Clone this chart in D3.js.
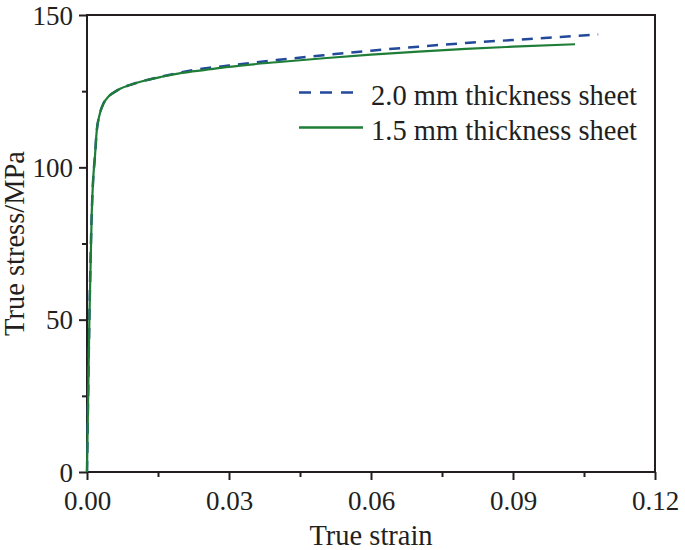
<!DOCTYPE html>
<html><head><meta charset="utf-8">
<script src="https://cdn.jsdelivr.net/npm/d3@7"></script>
<style>body{margin:0;background:#fff}svg{display:block}text{font-family:"Liberation Serif","Times New Roman",serif;fill:#231f20}</style>
</head><body><svg id="c" width="685" height="550"></svg>
<script>
const strain20 = [0,0.0005,0.001,0.0013,0.0017,0.002,0.0027,0.0035,0.0045,0.0055,0.007,0.009,0.0125,0.016,0.02,0.025,0.03,0.04,0.05,0.06,0.07,0.08,0.09,0.1,0.108];
const stress20 = [0,50,85,96,104,111,117.5,121,123.2,124.4,125.8,127,128.6,129.9,131.2,132.5,133.4,135.2,136.8,138.3,139.6,140.8,141.8,142.8,143.6];
const strain15 = [0,0.0005,0.001,0.0013,0.0017,0.002,0.0027,0.0035,0.0045,0.0055,0.007,0.009,0.0125,0.016,0.02,0.025,0.03,0.04,0.05,0.06,0.07,0.08,0.09,0.1031];
const stress15 = [0,50,85,96,104,111,117.5,121,123.2,124.4,125.8,127,128.6,129.8,131,132,133,134.5,135.8,137,138,138.9,139.6,140.4];
const xTicks = [0,0.03,0.06,0.09,0.12];
const xMinor = [0.015,0.045,0.075,0.105];
const yTicks = [0,50,100,150];
const yMinor = [25,75,125];
const legendLabels = ["2.0 mm thickness sheet","1.5 mm thickness sheet"];
const colors = ["#23499a","#1e7d36"];

const svg = d3.select("#c");
const m = {l:87,r:655,t:15,b:472};
const x = d3.scaleLinear().domain([0,0.12]).range([m.l,m.r]);
const y = d3.scaleLinear().domain([0,150]).range([m.b,m.t]);
const ink = "#231f20";

svg.append("rect").attr("x",m.l).attr("y",m.t).attr("width",m.r-m.l).attr("height",m.b-m.t)
  .attr("fill","none").attr("stroke",ink).attr("stroke-width",2);

const fs = 27, ft = 28.5;
const xa = svg.append("g").attr("transform",`translate(0,${m.b})`)
  .call(d3.axisBottom(x).tickValues(xTicks).tickFormat(d3.format(".2f")).tickSize(8).tickPadding(11));
const xm = svg.append("g").attr("transform",`translate(0,${m.b})`)
  .call(d3.axisBottom(x).tickValues(xMinor).tickFormat("").tickSize(5));
const ya = svg.append("g").attr("transform",`translate(${m.l},0)`)
  .call(d3.axisLeft(y).tickValues(yTicks).tickFormat(d3.format("d")).tickSize(8).tickPadding(6));
const ym = svg.append("g").attr("transform",`translate(${m.l},0)`)
  .call(d3.axisLeft(y).tickValues(yMinor).tickFormat("").tickSize(5));
[xa,xm,ya,ym].forEach(g=>{
  g.attr("font-size",fs).attr("font-family",'"Liberation Serif",serif');
  g.select(".domain").remove();
  g.selectAll("line").attr("stroke",ink).attr("stroke-width",2);
  g.selectAll("text").attr("fill",ink);
});
ya.selectAll("text").attr("dy","0.34em");

svg.append("text").attr("x",(m.l+m.r)/2).attr("y",545).attr("text-anchor","middle").attr("font-size",ft).text("True strain");
svg.append("text").attr("transform",`translate(24,${(m.t+m.b)/2}) rotate(-90)`).attr("text-anchor","middle").attr("font-size",ft).text("True stress/MPa");

const line = d3.line().x(d=>x(d[0])).y(d=>y(d[1])).curve(d3.curveMonotoneX);
const d20 = strain20.map((s,i)=>[s,stress20[i]]);
const d15 = strain15.map((s,i)=>[s,stress15[i]]);
svg.append("path").datum(d20).attr("d",line).attr("fill","none").attr("stroke",colors[0]).attr("stroke-width",2.5).attr("stroke-dasharray","11,8");
svg.append("path").datum(d15).attr("d",line).attr("fill","none").attr("stroke",colors[1]).attr("stroke-width",2.2);

const lg = svg.append("g");
[0,1].forEach(i=>{
  const ly = 92.5 + i*35;
  lg.append("line").attr("x1",299).attr("x2",i===0?357:363).attr("y1",ly).attr("y2",ly)
    .attr("stroke",colors[i]).attr("stroke-width",2.5).attr("stroke-dasharray",i===0?"12,9":null);
  lg.append("text").attr("x",371).attr("y",ly+2.5).attr("dy","0.34em").attr("font-size",ft).text(legendLabels[i]);
});
</script></body></html>
